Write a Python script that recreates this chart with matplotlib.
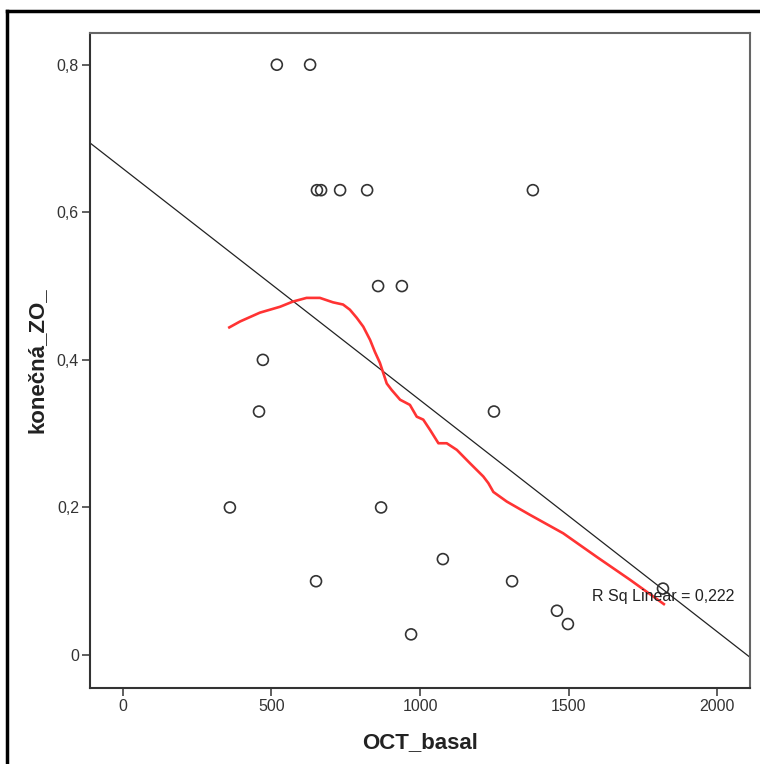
import matplotlib.pyplot as plt
from matplotlib.lines import Line2D
import numpy as np

# scatter data (OCT_basal vs konečná_ZO_)
oct_basal = [518, 630, 653, 667, 731, 822, 1380, 859, 939, 471, 458,
             1249, 360, 869, 1077, 650, 1310, 1461, 1498, 970, 1818]
zo = [0.80, 0.80, 0.63, 0.63, 0.63, 0.63, 0.63, 0.50, 0.50, 0.40, 0.33,
      0.33, 0.20, 0.20, 0.13, 0.10, 0.10, 0.06, 0.042, 0.028, 0.09]

# loess curve
loess_x = [358, 394, 461, 529, 572, 618, 663, 707, 741, 764, 787, 809,
           832, 848, 865, 888, 905, 933, 966, 989, 1011, 1034, 1062, 1090,
           1124, 1168, 1213, 1230, 1247, 1292, 1370, 1482, 1595, 1707, 1821]
loess_y = [0.444, 0.452, 0.464, 0.472, 0.479, 0.484, 0.484, 0.478, 0.475,
           0.468, 0.457, 0.445, 0.427, 0.411, 0.396, 0.368, 0.359, 0.346,
           0.339, 0.323, 0.319, 0.305, 0.287, 0.287, 0.278, 0.260, 0.242,
           0.233, 0.221, 0.208, 0.190, 0.165, 0.133, 0.102, 0.069]

r2_label = 'R Sq Linear = 0,222'
xticks = [0, 500, 1000, 1500, 2000]
yticks = [0, 0.2, 0.4, 0.6, 0.8]
ytick_labels = ['0', '0,2', '0,4', '0,6', '0,8']

plt.rcParams['font.family'] = ['Liberation Sans', 'DejaVu Sans']

fig = plt.figure(figsize=(7.6, 7.64), dpi=100)
ax = fig.add_axes([90/760, 1-688/764, 660/760, 655/764])

xmin, xmax = -111, 2111
ax.set_xlim(xmin, xmax)
ax.set_ylim(-0.0447, 0.843)

# linear fit
b, a = np.polyfit(oct_basal, zo, 1)
xx = np.array([xmin, xmax])
ax.plot(xx, a + b*xx, color='#222222', lw=0.9, zorder=2)

ax.plot(loess_x, loess_y, color='#ff3333', lw=1.9, zorder=3)

ax.scatter(oct_basal, zo, s=62, facecolors='none', edgecolors='#333333',
           linewidths=1.2, zorder=4)

ax.text(1578, 0.079, r2_label, fontsize=11.5, ha='left', va='center', color='#222222', zorder=5)

ax.set_xticks(xticks)
ax.set_yticks(yticks)
ax.set_yticklabels(ytick_labels)
ax.tick_params(direction='out', length=6, width=1.2, colors='#444444',
               labelsize=11.5, labelcolor='#333333', pad=2)

for s in ['left', 'bottom']:
    ax.spines[s].set_color('#333333')
    ax.spines[s].set_linewidth(1.5)
for s in ['top', 'right']:
    ax.spines[s].set_color('#666666')
    ax.spines[s].set_linewidth(1.5)

ax.set_xlabel('OCT_basal', fontsize=16, fontweight='bold', color='#222222')
ax.set_ylabel('konečná_ZO_', fontsize=16, fontweight='bold', color='#222222')
ax.xaxis.set_label_coords(0.5, -0.068)
ax.yaxis.set_label_coords(-0.064, 0.5)

# outer frame (left and top edges only visible)
fig.add_artist(Line2D([7/760, 7/760], [0, 1-11/764], color='black', lw=2.5))
fig.add_artist(Line2D([7/760, 1], [1-11/764, 1-11/764], color='black', lw=2.5))

fig.savefig('out.png', dpi=100)
